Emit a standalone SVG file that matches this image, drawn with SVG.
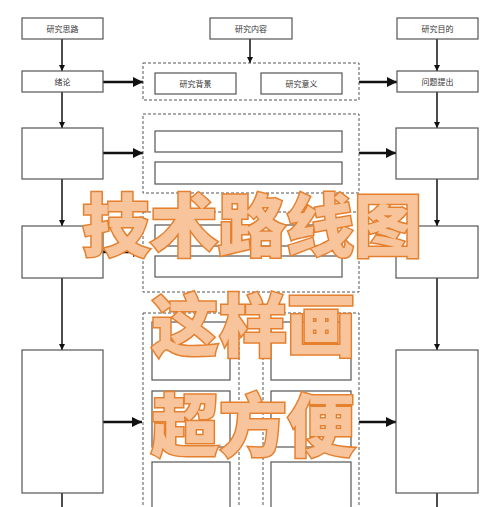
<svg xmlns="http://www.w3.org/2000/svg" width="500" height="507" viewBox="0 0 500 507">
<style>
.box{fill:#fff;stroke:#555;stroke-width:1.2}
.dash{fill:none;stroke:#555;stroke-width:1;stroke-dasharray:3,2}
.lbl{font-family:"Noto Sans CJK SC","Noto Sans",sans-serif;font-size:8px;fill:#333;text-anchor:middle}
.v{stroke:#111;stroke-width:1.5;fill:none}
.h{stroke:#111;stroke-width:2.5;fill:none}
.big{font-family:"Noto Sans CJK SC",sans-serif;font-weight:900;font-size:68px;fill:#F8C49C;stroke:#E5802F;stroke-width:3;paint-order:stroke;text-anchor:middle}
</style>
<defs>
<marker id="av" viewBox="0 0 10 10" refX="10" refY="5" markerWidth="6" markerHeight="6" markerUnits="userSpaceOnUse" orient="auto"><path d="M0,0L10,5L0,10z" fill="#111"/></marker>
<marker id="ah" viewBox="0 0 10 10" refX="10" refY="5" markerWidth="10" markerHeight="10" markerUnits="userSpaceOnUse" orient="auto"><path d="M0,0L10,5L0,10z" fill="#111"/></marker>
</defs>
<rect width="500" height="507" fill="#fff"/>
<g id="connectors">
<line class="v" x1="62" y1="39" x2="62" y2="71" marker-end="url(#av)"/>
<line class="v" x1="250" y1="39" x2="250" y2="63" marker-end="url(#av)"/>
<line class="v" x1="437" y1="39" x2="437" y2="71" marker-end="url(#av)"/>
<line class="v" x1="62" y1="92" x2="62" y2="128" marker-end="url(#av)"/>
<line class="v" x1="437" y1="92" x2="437" y2="128" marker-end="url(#av)"/>
<line class="v" x1="62" y1="179" x2="62" y2="226" marker-end="url(#av)"/>
<line class="v" x1="437" y1="179" x2="437" y2="226" marker-end="url(#av)"/>
<line class="v" x1="62" y1="278" x2="62" y2="350" marker-end="url(#av)"/>
<line class="v" x1="437" y1="278" x2="437" y2="350" marker-end="url(#av)"/>
<line class="v" x1="62" y1="493" x2="62" y2="507"/>
<line class="v" x1="437" y1="493" x2="437" y2="507"/>
<line class="h" x1="103" y1="82" x2="143" y2="82" marker-end="url(#ah)"/>
<line class="h" x1="359" y1="82" x2="397" y2="82" marker-end="url(#ah)"/>
<line class="h" x1="103" y1="153" x2="143" y2="153" marker-end="url(#ah)"/>
<line class="h" x1="359" y1="153" x2="396" y2="153" marker-end="url(#ah)"/>
<line class="h" x1="103" y1="252" x2="143" y2="252" marker-end="url(#ah)"/>
<line class="h" x1="359" y1="252" x2="396" y2="252" marker-end="url(#ah)"/>
<line class="h" x1="103" y1="422" x2="142" y2="422" marker-end="url(#ah)"/>
<line class="h" x1="359" y1="422" x2="396" y2="422" marker-end="url(#ah)"/>
</g>
<g id="n-silu"><rect class="box" x="22" y="18" width="81" height="21"/><text class="lbl" x="62.5" y="31.5">研究思路</text></g>
<g id="n-neirong"><rect class="box" x="210" y="18" width="82" height="21"/><text class="lbl" x="251" y="31.5">研究内容</text></g>
<g id="n-mudi"><rect class="box" x="397" y="18" width="81" height="21"/><text class="lbl" x="437.5" y="31.5">研究目的</text></g>
<g id="n-xulun"><rect class="box" x="22" y="71" width="81" height="21"/><text class="lbl" x="62.5" y="84.5">绪论</text></g>
<g id="n-wenti"><rect class="box" x="397" y="71" width="81" height="21"/><text class="lbl" x="437.5" y="84.5">问题提出</text></g>
<g id="g-row1">
<rect class="dash" x="143" y="63" width="216" height="37"/>
<g id="n-beijing"><rect class="box" x="155" y="73" width="81" height="21"/><text class="lbl" x="195.5" y="86.5">研究背景</text></g>
<g id="n-yiyi"><rect class="box" x="261" y="73" width="81" height="21"/><text class="lbl" x="301.5" y="86.5">研究意义</text></g>
</g>
<g id="n-l2"><rect class="box" x="22" y="128" width="81" height="51"/></g>
<g id="n-r2"><rect class="box" x="396" y="128" width="82" height="51"/></g>
<g id="g-row2">
<rect class="dash" x="143" y="114" width="216" height="79"/>
<rect class="box" x="155" y="131" width="187" height="21"/>
<rect class="box" x="155" y="162" width="187" height="22"/>
</g>
<g id="n-l3"><rect class="box" x="22" y="226" width="81" height="52"/></g>
<g id="n-r3"><rect class="box" x="396" y="226" width="82" height="52"/></g>
<g id="g-row3">
<rect class="dash" x="143" y="212" width="216" height="80"/>
<rect class="box" x="155" y="225" width="187" height="21"/>
<rect class="box" x="155" y="256" width="187" height="21"/>
</g>
<g id="n-l4"><rect class="box" x="22" y="350" width="81" height="143"/></g>
<g id="n-r4"><rect class="box" x="396" y="350" width="82" height="143"/></g>
<g id="g-row4">
<rect class="dash" x="143" y="313" width="96" height="200"/>
<rect class="dash" x="263" y="313" width="96" height="200"/>
<rect class="box" x="152" y="322" width="78" height="58"/>
<rect class="box" x="152" y="391" width="78" height="56"/>
<rect class="box" x="152" y="462" width="78" height="50"/>
<rect class="box" x="271" y="322" width="80" height="58"/>
<rect class="box" x="271" y="391" width="80" height="56"/>
<rect class="box" x="271" y="462" width="80" height="50"/>
</g>
<g id="overlay">
<text class="big" x="252" y="251">技术路线图</text>
<text class="big" x="253" y="351">这样画</text>
<text class="big" x="253" y="451">超方便</text>
</g>
</svg>
